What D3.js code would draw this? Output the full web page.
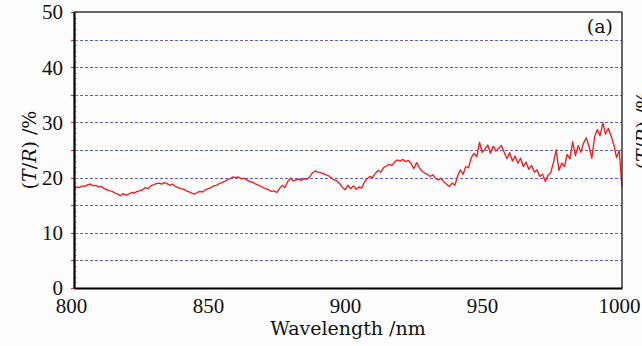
<!DOCTYPE html>
<html>
<head>
<meta charset="utf-8">
<script src="https://cdn.jsdelivr.net/npm/d3@7"></script>
<style>
html,body{margin:0;padding:0;background:#fdfdfd;}
svg{display:block;}
.tick text{font-family:"Liberation Serif","Times New Roman",serif;}
</style>
</head>
<body>
<svg id="chart" width="642" height="346"></svg>
<script>
const xTicks = [800, 850, 900, 950, 1000];
const yTicks = [0, 10, 20, 30, 40, 50];
const gridValues = [5, 10, 15, 20, 25, 30, 35, 40, 45];
const xLabel = "Wavelength /nm";
const panelLabel = "(a)";
const wavelengthStart = 800;
const transmission = [
18.0,18.3,18.2,18.5,18.4,18.7,18.8,18.5,18.6,18.3,
18.4,18.0,17.8,17.6,17.5,17.2,17.0,16.7,17.1,16.8,
17.0,17.3,17.2,17.5,17.6,17.8,18.2,18.0,18.5,18.7,
18.9,19.0,18.8,19.1,18.9,18.6,18.8,18.4,18.2,18.0,
17.9,17.6,17.4,17.2,17.0,17.3,17.5,17.4,17.8,18.0,
18.2,18.5,18.6,18.9,19.1,19.3,19.6,19.8,20.1,20.0,
20.1,19.8,19.9,19.6,19.3,19.2,18.9,18.7,18.5,18.2,
18.0,17.8,17.5,17.6,17.3,18.0,18.6,18.2,19.3,19.9,
19.4,19.6,19.7,19.5,19.8,19.7,20.1,20.8,21.2,21.0,
20.9,20.7,20.5,20.3,19.9,19.6,19.4,18.9,18.2,17.8,
18.6,18.0,18.5,17.9,18.3,18.1,19.2,19.8,20.2,20.0,
20.8,21.3,21.0,21.8,22.1,22.4,22.2,22.8,23.2,23.0,
23.3,22.9,23.1,22.6,21.6,22.7,21.8,21.2,20.8,20.6,
20.2,20.5,19.8,19.6,19.9,19.2,18.8,18.4,19.0,18.6,
20.3,21.4,20.6,22.0,21.8,23.6,24.4,23.8,26.4,24.6,
25.2,25.9,24.4,25.7,24.8,25.3,25.8,24.6,23.4,24.5,
23.0,23.9,22.6,23.5,22.0,22.8,21.5,22.2,21.0,21.4,
20.2,20.6,19.3,20.4,20.9,22.8,25.0,21.3,22.6,22.0,
24.2,23.4,26.5,24.0,25.8,24.6,26.3,27.2,25.6,23.5,
27.4,28.7,27.6,29.9,27.9,28.9,27.6,26.0,23.6,24.9,
18.2
];

const margin = {left: 74, top: 12, right: 20, bottom: 58};
const W = 642, H = 346;
const iw = W - margin.left - margin.right;
const ih = H - margin.top - margin.bottom;
const FONT = "'DejaVu Serif', serif";

const svg = d3.select("#chart");
const g = svg.append("g").attr("transform", `translate(${margin.left},${margin.top})`);

const x = d3.scaleLinear().domain([800, 1000]).range([0, iw]);
const y = d3.scaleLinear().domain([0, 50]).range([ih, 0]);
const ySnap = v => Math.round(y(v)) + 0.5;

// gridlines
g.append("g").selectAll("line").data(gridValues).join("line")
  .attr("x1", 1).attr("x2", iw)
  .attr("y1", d => ySnap(d)).attr("y2", d => ySnap(d))
  .attr("stroke", "#5c5cc8").attr("stroke-width", 1)
  .attr("stroke-dasharray", "3,2");

// minor ticks on left axis
g.append("g").selectAll("line").data(d3.range(0, 51, 1)).join("line")
  .attr("x1", 0).attr("x2", 3)
  .attr("y1", d => ySnap(d)).attr("y2", d => ySnap(d))
  .attr("stroke", "#aaa").attr("stroke-width", 0.8);

// red major ticks outward
g.append("g").selectAll("line").data(d3.range(0, 51, 5)).join("line")
  .attr("x1", -3).attr("x2", 0)
  .attr("y1", d => ySnap(d)).attr("y2", d => ySnap(d))
  .attr("stroke", "#e03030").attr("stroke-width", 1.2);

// line
const line = d3.line()
  .x((d, i) => x(wavelengthStart + i))
  .y(d => y(d));
g.append("path").datum(transmission)
  .attr("d", line)
  .attr("fill", "none")
  .attr("stroke", "#ee2222")
  .attr("stroke-width", 1.4)
  .attr("stroke-linejoin", "round");

// frame
g.append("line").attr("x1", 0).attr("x2", iw).attr("y1", 0).attr("y2", 0)
  .attr("stroke", "#333").attr("stroke-width", 1.5);
g.append("line").attr("x1", iw).attr("x2", iw).attr("y1", 0).attr("y2", ih)
  .attr("stroke", "#333").attr("stroke-width", 1.5);

// axes
const xAxis = g.append("g").attr("transform", `translate(0,${ih})`)
  .call(d3.axisBottom(x).tickValues(xTicks).tickSize(0).tickFormat(d3.format("d")));
const yAxis = g.append("g")
  .call(d3.axisLeft(y).tickValues(yTicks).tickSize(0).tickPadding(11).tickFormat(d3.format("d")));
[xAxis, yAxis].forEach(a => {
  a.attr("font-family", null);
  a.select(".domain").attr("stroke", "#000").attr("stroke-width", 2.2);
  a.selectAll("text").attr("font-size", 21).attr("fill", "#111");
});
xAxis.selectAll("text").attr("y", 25).attr("dy", "0").attr("dx", -3);
yAxis.selectAll("text").attr("dy", "0.33em");

// x label
svg.append("text")
  .attr("x", margin.left + iw / 2).attr("y", 335)
  .attr("text-anchor", "middle")
  .attr("font-family", FONT)
  .attr("font-size", 19).attr("fill", "#111")
  .text(xLabel);

// y label
function yLabel(tx, ty) {
  const t = svg.append("text")
    .attr("transform", `translate(${tx},${ty}) rotate(-90)`)
    .attr("text-anchor", "middle")
    .attr("font-family", FONT)
    .attr("font-size", 19).attr("fill", "#111");
  t.append("tspan").text("(");
  t.append("tspan").attr("font-style", "italic").text("T");
  t.append("tspan").text("/");
  t.append("tspan").attr("font-style", "italic").text("R");
  t.append("tspan").text(") /%");
}
yLabel(36, 150);
yLabel(650, 130);

// panel label
svg.append("text")
  .attr("x", 613).attr("y", 33)
  .attr("text-anchor", "end")
  .attr("font-family", FONT)
  .attr("font-size", 19).attr("fill", "#111")
  .text(panelLabel);
</script>
</body>
</html>
